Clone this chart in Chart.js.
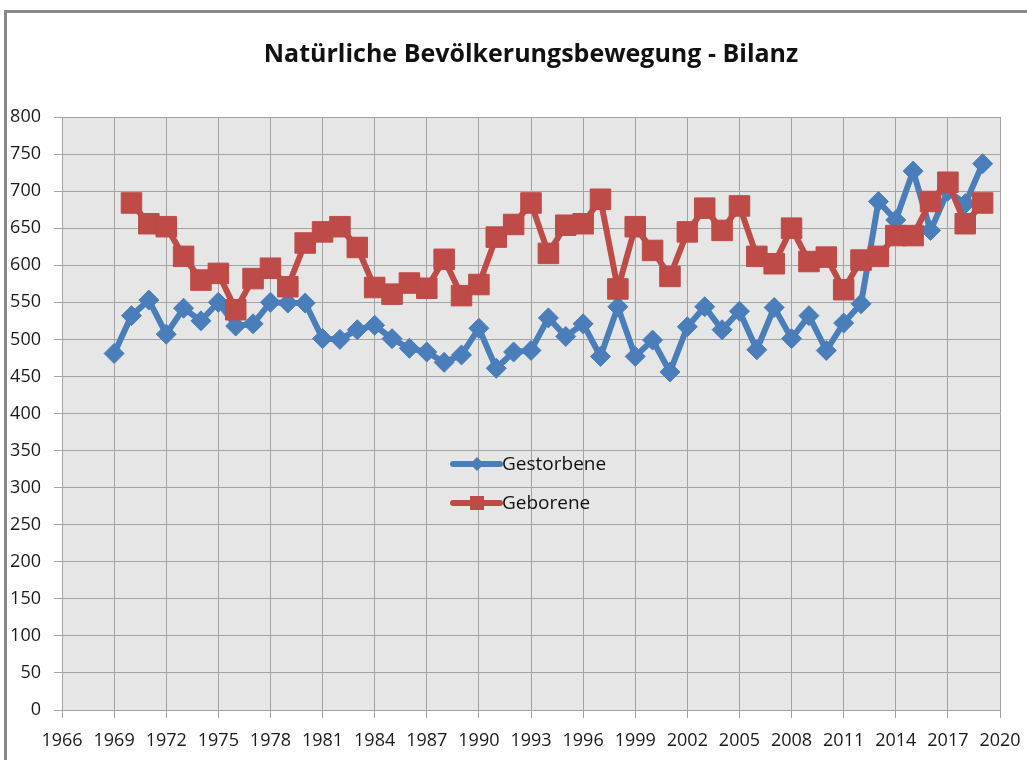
<!DOCTYPE html>
<html>
<head>
<meta charset="utf-8">
<script src="https://cdn.jsdelivr.net/npm/chart.js@4.4.1/dist/chart.umd.min.js"></script>
<style>
  html, body { margin: 0; padding: 0; background: #fff; }
  body { width: 1027px; height: 760px; position: relative; overflow: hidden; }
  #frame { position: absolute; left: 4px; top: 10px; width: 1100px; height: 800px;
           border-top: 3px solid #898989; border-left: 3px solid #898989; box-sizing: border-box; }
  #c { position: absolute; left: 0; top: 0; }
</style>
</head>
<body>
<div id="frame"></div>
<canvas id="c" width="1027" height="760"></canvas>
<script>
const titleText = 'Natürliche Bevölkerungsbewegung - Bilanz';
const seriesNames = ['Gestorbene', 'Geborene'];

const yearsGestorbene = [1969,1970,1971,1972,1973,1974,1975,1976,1977,1978,1979,1980,1981,1982,1983,1984,1985,1986,1987,1988,1989,1990,1991,1992,1993,1994,1995,1996,1997,1998,1999,2000,2001,2002,2003,2004,2005,2006,2007,2008,2009,2010,2011,2012,2013,2014,2015,2016,2017,2018,2019];
const gestorbene = [481,532,553,507,542,525,550,518,521,550,549,549,501,500,513,519,501,488,483,469,479,515,461,483,485,529,504,521,477,544,477,499,456,517,544,513,538,486,543,501,532,485,522,548,686,661,727,647,700,683,737];

const yearsGeborene = [1970,1971,1972,1973,1974,1975,1976,1977,1978,1979,1980,1981,1982,1983,1984,1985,1986,1987,1988,1989,1990,1991,1992,1993,1994,1995,1996,1997,1998,1999,2000,2001,2002,2003,2004,2005,2006,2007,2008,2009,2010,2011,2012,2013,2014,2015,2016,2017,2018,2019];
const geborene = [684,656,652,612,580,589,540,582,596,571,630,645,652,624,570,561,576,569,608,559,574,638,655,684,616,654,656,689,568,652,620,585,645,677,647,680,612,602,650,605,611,567,607,612,640,640,686,712,656,684];

const xMin = 1966, xMax = 2020, xStep = 3;
const yMin = 0, yMax = 800, yStep = 50;

const blue = '#4a7ebb';
const red = '#be4b48';
const tickFont = { family: "'Open Sans', 'Liberation Sans', sans-serif", size: 18 };

const toPoints = (xs, ys) => xs.map((x, i) => ({ x: x, y: ys[i] }));

const plotBg = {
  id: 'plotBg',
  beforeDraw(chart) {
    const { ctx, chartArea: a } = chart;
    ctx.save();
    ctx.fillStyle = '#e6e6e6';
    ctx.fillRect(a.left, a.top, a.right - a.left, a.bottom - a.top);
    ctx.restore();
  }
};

const innerLegend = {
  id: 'innerLegend',
  afterDraw(chart) {
    const ctx = chart.ctx;
    const items = [
      { label: seriesNames[0], color: blue, shape: 'diamond', y: 464 },
      { label: seriesNames[1], color: red, shape: 'square', y: 503 }
    ];
    const x0 = 453, x1 = 500, cx = 477;
    ctx.save();
    items.forEach(it => {
      ctx.strokeStyle = it.color;
      ctx.fillStyle = it.color;
      ctx.lineWidth = 6;
      ctx.lineCap = 'round';
      ctx.beginPath();
      ctx.moveTo(x0, it.y);
      ctx.lineTo(x1, it.y);
      ctx.stroke();
      ctx.beginPath();
      if (it.shape === 'diamond') {
        const r = 7;
        ctx.moveTo(cx, it.y - r); ctx.lineTo(cx + r, it.y); ctx.lineTo(cx, it.y + r); ctx.lineTo(cx - r, it.y);
        ctx.closePath();
      } else {
        const s = 7;
        ctx.rect(cx - s, it.y - s, 2 * s, 2 * s);
      }
      ctx.fill();
      ctx.fillStyle = '#111';
      ctx.font = `19px ${tickFont.family}`;
      ctx.textAlign = 'left';
      ctx.textBaseline = 'middle';
      ctx.fillText(it.label, 502, it.y + 1);
    });
    ctx.restore();
  }
};

new Chart(document.getElementById('c'), {
  type: 'line',
  data: {
    datasets: [
      {
        label: seriesNames[0],
        data: toPoints(yearsGestorbene, gestorbene),
        borderColor: blue,
        backgroundColor: blue,
        borderWidth: 6,
        pointStyle: 'rectRot',
        pointRadius: 10,
        pointBorderWidth: 1,
        pointBorderColor: blue,
        pointBackgroundColor: blue,
        tension: 0,
        order: 1
      },
      {
        label: seriesNames[1],
        data: toPoints(yearsGeborene, geborene),
        borderColor: red,
        backgroundColor: red,
        borderWidth: 6,
        pointStyle: 'rect',
        pointRadius: 14.5,
        pointBorderWidth: 1,
        pointBorderColor: red,
        pointBackgroundColor: red,
        tension: 0,
        order: 0
      }
    ]
  },
  options: {
    responsive: false,
    animation: false,
    devicePixelRatio: 1,
    layout: { padding: { left: 0, right: 27, top: 0, bottom: 0 } },
    plugins: {
      legend: { display: false },
      tooltip: { enabled: false },
      title: {
        display: true,
        text: titleText,
        fullSize: false,
        color: '#111',
        font: { family: "'Open Sans', 'Liberation Sans', sans-serif", size: 25, weight: 'bold' },
        padding: { top: 40, bottom: 47 }
      }
    },
    scales: {
      x: {
        type: 'linear',
        min: xMin, max: xMax,
        afterFit(scale) { scale.height = 50; scale.paddingRight = 0; scale.paddingLeft = 0; },
        ticks: {
          stepSize: xStep,
          autoSkip: false,
          maxRotation: 0,
          color: '#1a1a1a',
          font: tickFont,
          padding: 12,
          callback: v => String(v)
        },
        grid: { color: '#a3a3a3', lineWidth: 1, tickLength: 8, drawTicks: true },
        border: { color: '#a3a3a3', width: 1 }
      },
      y: {
        min: yMin, max: yMax,
        afterFit(scale) { scale.width = 62; },
        ticks: {
          stepSize: yStep,
          color: '#1a1a1a',
          font: tickFont,
          padding: 13,
          callback: v => String(v)
        },
        grid: { color: '#a3a3a3', lineWidth: 1, tickLength: 8, drawTicks: true },
        border: { color: '#a3a3a3', width: 1 }
      }
    }
  },
  plugins: [plotBg, innerLegend]
});
</script>
</body>
</html>
